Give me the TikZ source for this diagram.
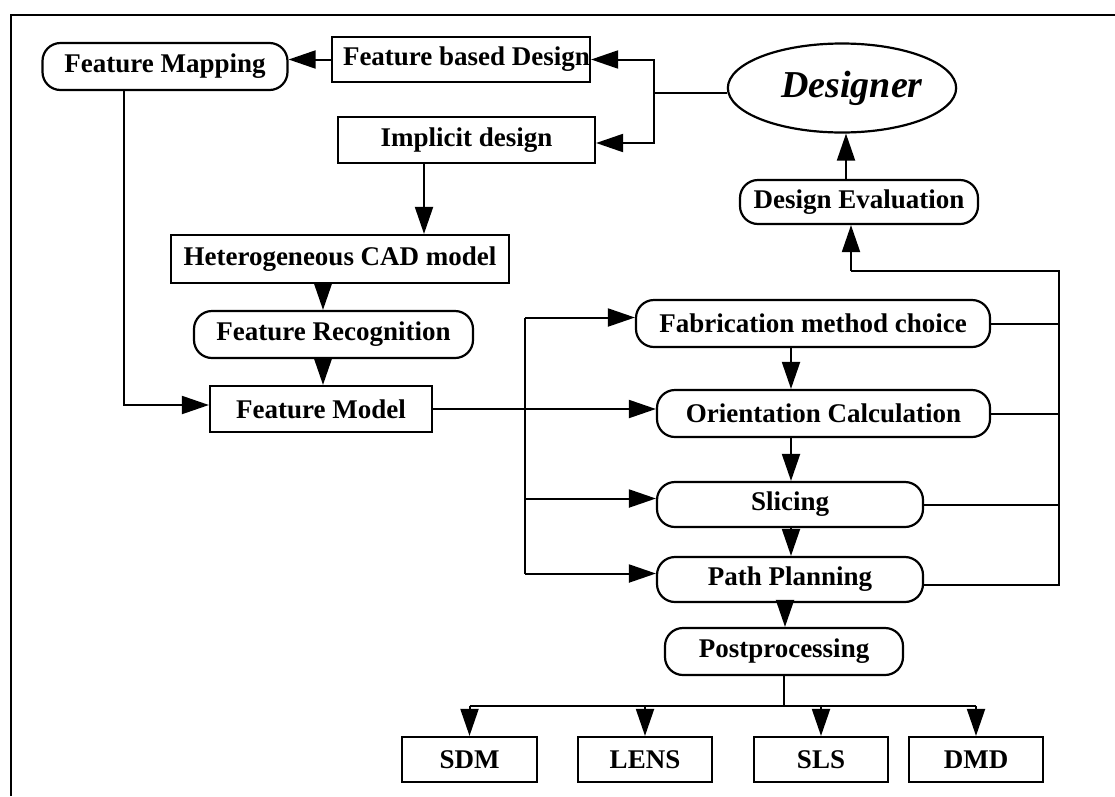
\documentclass[tikz,border=0pt]{standalone}
\usepackage{fontspec}
\setmainfont{Liberation Serif}
\usetikzlibrary{arrows.meta,shapes.geometric}
\begin{document}
\begin{tikzpicture}[x=1pt,y=-1pt,
  box/.style={draw, line width=2.2pt, inner sep=0pt,
    font=\fontsize{27}{30}\selectfont\bfseries},
  rbox/.style={box, rounded corners=18pt},
  link/.style={line width=2pt},
  arr/.style={link, -{Triangle[length=27pt,width=18pt]}},
]
\useasboundingbox (0,0) rectangle (1115,796);
% frame
\draw[line width=2.6pt] (11,796) -- (11,15) -- (1115,15);

% design stage
\node[rbox, minimum width=245pt, minimum height=47pt] (FM) at (165,66.5) {Feature Mapping};
\node[box, minimum width=256pt, minimum height=45pt] (FbD) at (461,59.5) {\hspace*{11pt}Feature based Design};
\node[box, minimum width=257pt, minimum height=46pt] (Impl) at (466.5,140) {Implicit design};
\node[draw, ellipse, line width=2.2pt, inner sep=0pt, minimum width=224pt, minimum height=89pt,
  font=\fontsize{38}{40}\selectfont\bfseries\itshape] (Designer) at (842,88) {\hspace*{20pt}Designer};
\node[rbox, minimum width=238pt, minimum height=44pt] (DE) at (859,202) {Design Evaluation};
\node[box, minimum width=338pt, minimum height=48pt] (HCM) at (340,259) {Heterogeneous CAD model};
\node[rbox, minimum width=279pt, minimum height=47pt] (FR) at (333.5,334.5) {Feature Recognition};
\node[box, minimum width=222pt, minimum height=46pt] (FMod) at (321,409) {Feature Model};

% process planning
\node[rbox, minimum width=354pt, minimum height=47pt] (Fab) at (813,323.5) {Fabrication method choice};
\node[rbox, minimum width=333pt, minimum height=47pt] (OC) at (823.5,413.5) {Orientation Calculation};
\node[rbox, minimum width=266pt, minimum height=45pt] (Sl) at (790,504.5) {Slicing};
\node[rbox, minimum width=266pt, minimum height=45pt] (PP) at (790,579.5) {Path Planning};
\node[rbox, minimum width=238pt, minimum height=47pt] (Post) at (784,651.5) {Postprocessing};

% fabrication processes
\node[box, minimum width=135pt, minimum height=45pt] (SDM) at (469.5,759.5) {SDM};
\node[box, minimum width=134pt, minimum height=45pt] (LENS) at (645,759.5) {LENS};
\node[box, minimum width=134pt, minimum height=45pt] (SLS) at (821,759.5) {SLS};
\node[box, minimum width=134pt, minimum height=45pt] (DMD) at (976,759.5) {DMD};

% designer choices
\coordinate (dj) at (654,93);
\draw[link] (dj -| Designer.west) -- (dj);
\draw[arr] (dj) |- (FbD.east);
\coordinate (ie) at ([yshift=-3pt]Impl.east);
\draw[arr] (dj) |- (ie);
\draw[arr] (FbD.west) -- (FbD.west -| FM.east);

% design flow
\coordinate (xa) at (424,0);
\draw[arr] (Impl.south -| xa) -- (HCM.north -| xa);
\coordinate (xb) at (323,0);
\draw[arr] (HCM.south -| xb) -- (FR.north -| xb);
\draw[arr] (FR.south -| xb) -- (FMod.north -| xb);
\coordinate (xc) at (124,0);
\coordinate (fw) at ([yshift=4pt]FMod.west);
\draw[arr] (FM.south -| xc) |- (fw);
\draw[arr] (FMod.east) -- (FMod.east -| OC.west);

% left distribution bus
\coordinate (lb) at (525,0);
\coordinate (lf) at ([yshift=6pt]Fab.west);
\coordinate (ls) at ([yshift=6pt]Sl.west);
\coordinate (lp) at ([yshift=6pt]PP.west);
\draw[link] (lb |- lf) -- (lb |- lp);
\draw[arr] (lb |- lf) -- (lf);
\draw[arr] (lb |- ls) -- (ls);
\draw[arr] (lb |- lp) -- (lp);

% process chain
\coordinate (xf) at (791,0);
\draw[arr] (Fab.south -| xf) -- (OC.north -| xf);
\draw[arr] (OC.south -| xf) -- (Sl.north -| xf);
\draw[arr] (Sl.south -| xf) -- (PP.north -| xf);
\coordinate (xg) at (785,0);
\draw[arr] (PP.south -| xg) -- (Post.north -| xg);

% feedback bus
\coordinate (rb) at (1059,0);
\coordinate (rp) at ([yshift=-5pt]PP.east);
\coordinate (rt) at (1059,271);
\coordinate (xd) at (851,0);
\draw[link] (Fab.east) -- (Fab.east -| rb);
\draw[link] (OC.east) -- (OC.east -| rb);
\draw[link] (Sl.east) -- (Sl.east -| rb);
\draw[link] (rp) -- (rp -| rb) -- (rt) -- (rt -| xd);
\draw[arr] (rt -| xd) -- (DE.south -| xd);
\coordinate (xe) at (846,0);
\draw[arr] (DE.north -| xe) -- (Designer.south -| xe);

% output branches
\coordinate (bb) at (0,706);
\draw[link] (Post.south) -- (Post.south |- bb);
\draw[link] (SDM.north |- bb) -- (DMD.north |- bb);
\foreach \n in {SDM,LENS,SLS,DMD}
  \draw[arr] (\n.north |- bb) -- (\n.north);
\end{tikzpicture}
\end{document}
